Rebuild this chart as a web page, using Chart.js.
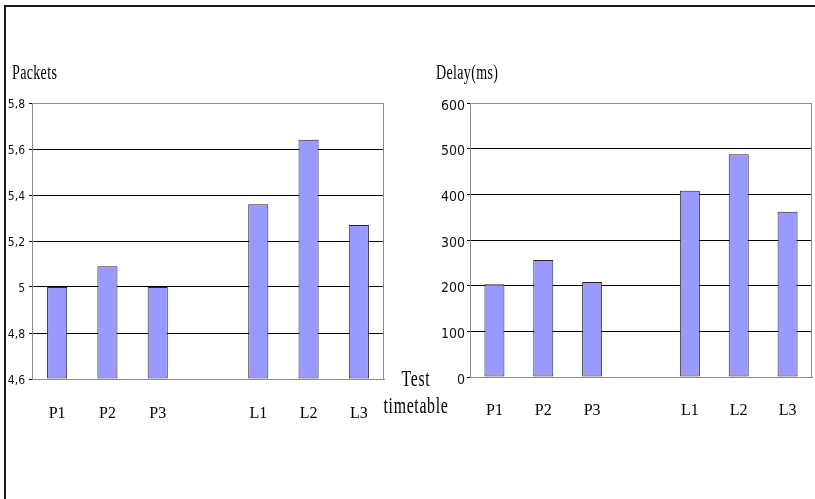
<!DOCTYPE html>
<html>
<head>
<meta charset="utf-8">
<title>Packets and Delay per test timetable</title>
<script src="https://cdn.jsdelivr.net/npm/chart.js@4"></script>
<style>
  html, body { margin: 0; padding: 0; background: #fff; width: 815px; height: 499px; overflow: hidden; }
  #frame { position: absolute; left: 4px; top: 5px; width: 811px; height: 494px;
           border-left: 2px solid #1a1a1a; border-top: 2px solid #1a1a1a; box-sizing: border-box; }
  .box { position: absolute; top: 0; height: 499px; }
  #packetsBox { left: 0; width: 395px; }
  #delayBox { left: 395px; width: 420px; }
  .lbl { position: absolute; font-family: "Liberation Serif", "Times New Roman", serif; color: #000;
         white-space: nowrap; transform-origin: 0 0; line-height: 20px; }
  .title { font-size: 20px; letter-spacing: 0.5px; transform: scaleX(0.7); top: 62px; }
  #packetsTitle { left: 12px; }
  #delayTitle { left: 436px; }
  #axisTitle { left: 356px; top: 365px; width: 120px; font-size: 24px; line-height: 27px; text-align: center;
               letter-spacing: 1px; transform-origin: 50% 0; transform: scaleX(0.66); }
</style>
</head>
<body>
<div id="frame"></div>
<div class="box" id="packetsBox"><canvas id="packetsChart" width="395" height="499"></canvas></div>
<div class="box" id="delayBox"><canvas id="delayChart" width="420" height="499"></canvas></div>
<div class="lbl title" id="packetsTitle">Packets</div>
<div class="lbl title" id="delayTitle">Delay(ms)</div>
<div class="lbl" id="axisTitle">Test<br>timetable</div>

<script>
// Test runs: three P timetables, a spacer slot, three L timetables
const categories = ['P1', 'P2', 'P3', '', 'L1', 'L2', 'L3'];

// Packets per run
const packets = [5.0, 5.09, 5.0, null, 5.36, 5.64, 5.27];
const packetTicks = ['4,6', '4,8', '5', '5,2', '5,4', '5,6', '5,8'];

// Delay per run, in milliseconds
const delayMs = [203, 256, 208, null, 408, 488, 362];
const delayTicks = ['0', '100', '200', '300', '400', '500', '600'];

const BAR_FILL = '#9999ff';
const BAR_EDGE = '#262626';
const FRAME_GRAY = '#8c8c8c';

// Grey right edge of the plot area
const plotFrame = {
  id: 'plotFrame',
  beforeDatasetsDraw(chart) {
    const a = chart.chartArea;
    const ctx = chart.ctx;
    ctx.save();
    ctx.strokeStyle = FRAME_GRAY;
    ctx.lineWidth = 1;
    ctx.beginPath();
    ctx.moveTo(Math.round(a.right) - 0.5, Math.round(a.top) + 0.5);
    ctx.lineTo(Math.round(a.right) - 0.5, Math.round(a.bottom) + 0.5);
    ctx.stroke();
    ctx.restore();
  }
};

function buildChart(canvasId, values, tickLabels, opts) {
  const nTicks = tickLabels.length;
  return new Chart(document.getElementById(canvasId), {
    type: 'bar',
    data: {
      labels: categories,
      datasets: [{
        data: values,
        base: opts.min,
        backgroundColor: BAR_FILL,
        borderColor: BAR_EDGE,
        borderWidth: 1,
        borderSkipped: false,
        categoryPercentage: 1,
        barPercentage: opts.barPct
      }]
    },
    options: {
      responsive: false,
      animation: false,
      devicePixelRatio: 1,
      layout: { padding: opts.padding },
      plugins: { legend: { display: false }, tooltip: { enabled: false }, title: { display: false } },
      scales: {
        x: {
          grid: { display: false, drawTicks: false },
          border: { display: true, color: FRAME_GRAY, width: 1 },
          ticks: {
            color: '#000',
            padding: opts.xPad,
            maxRotation: 0,
            autoSkip: false,
            // tall line box drops the category names well below the axis
            font: { family: '"Liberation Serif", "Times New Roman", serif', size: 16, lineHeight: 4 }
          },
          afterFit(scale) { scale.height = 40; }
        },
        y: {
          min: opts.min,
          max: opts.max,
          grid: {
            color: (c) => (c.index === 0 || c.index === nTicks - 1) ? FRAME_GRAY : '#000',
            tickColor: '#000',
            tickLength: 3,
            lineWidth: 1
          },
          border: { display: true, color: FRAME_GRAY, width: 1 },
          ticks: {
            stepSize: opts.step,
            color: '#111',
            padding: opts.yPad,
            labelOffset: opts.yShift,
            font: { family: '"Liberation Sans Narrow", "DejaVu Sans Condensed", sans-serif', size: opts.yFont },
            callback: (v, i) => tickLabels[i]
          },
          afterFit(scale) { scale.width = opts.yWidth; }
        }
      }
    },
    plugins: [plotFrame]
  });
}

buildChart('packetsChart', packets, packetTicks, {
  min: 4.6, max: 5.8, step: 0.2, barPct: 0.4,
  padding: { left: 0, top: 103, right: 11, bottom: 80 },
  yWidth: 32, yPad: 4, yFont: 12, yShift: 2, xPad: 3
});

buildChart('delayChart', delayMs, delayTicks, {
  min: 0, max: 600, step: 100, barPct: 0.41,
  padding: { left: 45, top: 103, right: 3, bottom: 82 },
  yWidth: 30, yPad: 2, yFont: 14, yShift: 3, xPad: 2
});
</script>
</body>
</html>
